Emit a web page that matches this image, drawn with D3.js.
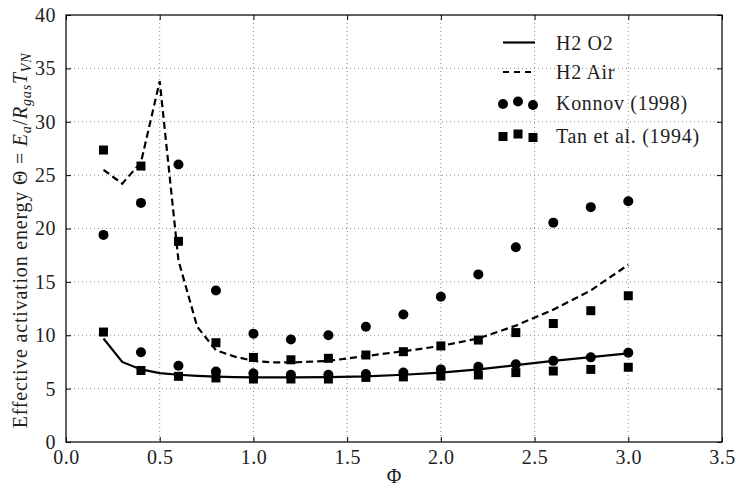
<!DOCTYPE html>
<html><head><meta charset="utf-8">
<script src="https://cdn.jsdelivr.net/npm/d3@7"></script>
<style>body{margin:0;background:#fff}</style>
</head><body>
<svg id="chart" width="736" height="490"></svg>
<script>
// ---- data ----
const xTicks = [0.0, 0.5, 1.0, 1.5, 2.0, 2.5, 3.0, 3.5];
const yTicks = [0, 5, 10, 15, 20, 25, 30, 35, 40];

const o2Phi = [0.2, 0.3, 0.4, 0.5, 0.6, 0.7, 0.8, 0.9, 1.0, 1.2, 1.4, 1.6, 1.8, 2.0, 2.2, 2.4, 2.6, 2.8, 3.0];
const o2Theta = [9.7, 7.5, 6.8, 6.45, 6.3, 6.2, 6.12, 6.07, 6.05, 6.05, 6.08, 6.15, 6.3, 6.5, 6.8, 7.2, 7.6, 7.95, 8.3];

const airPhi = [0.2, 0.3, 0.4, 0.5, 0.6, 0.7, 0.8, 0.9, 1.0, 1.1, 1.2, 1.4, 1.6, 1.8, 2.0, 2.2, 2.4, 2.6, 2.8, 3.0];
const airTheta = [25.5, 24.2, 26.2, 33.8, 17.0, 10.8, 8.6, 8.0, 7.6, 7.45, 7.45, 7.6, 8.05, 8.5, 9.0, 9.7, 10.9, 12.4, 14.2, 16.6];

const expPhi = [0.2, 0.4, 0.6, 0.8, 1.0, 1.2, 1.4, 1.6, 1.8, 2.0, 2.2, 2.4, 2.6, 2.8, 3.0];
const konnovAir = [19.4, 22.4, 26.0, 14.2, 10.15, 9.6, 10.0, 10.8, 11.95, 13.6, 15.7, 18.25, 20.55, 22.0, 22.55];
const konnovO2 = [null, 8.4, 7.15, 6.6, 6.43, 6.3, 6.3, 6.37, 6.5, 6.8, 7.05, 7.28, 7.6, 7.93, 8.37];
const tanAir = [27.35, 25.85, 18.8, 9.3, 7.92, 7.7, 7.84, 8.15, 8.46, 9.0, 9.55, 10.25, 11.1, 12.3, 13.7];
const tanO2 = [10.3, 6.7, 6.15, 6.0, 5.9, 5.9, 5.9, 6.05, 6.1, 6.18, 6.28, 6.5, 6.65, 6.8, 7.0];

const legendLabels = ["H2 O2", "H2 Air", "Konnov (1998)", "Tan et al. (1994)"];

// ---- chart ----
const svg = d3.select("#chart");
const L = 66, R = 722, T = 15, B = 442;
const x = d3.scaleLinear().domain([0, 3.5]).range([L, R]);
const y = d3.scaleLinear().domain([0, 40]).range([B, T]);
const FONT = "'Liberation Serif', 'Times New Roman', serif";
const TXT = "#1e1e1e";

// grid
const grid = svg.append("g").attr("stroke", "#8a8a8a").attr("stroke-width", 1).attr("stroke-dasharray", "1,3");
xTicks.slice(1, -1).forEach(v => grid.append("line").attr("x1", x(v)).attr("x2", x(v)).attr("y1", T).attr("y2", B));
yTicks.slice(1, -1).forEach(v => grid.append("line").attr("x1", L).attr("x2", R).attr("y1", y(v)).attr("y2", y(v)));

// axes (ticks inward)
const axB = d3.axisBottom(x).tickValues(xTicks).tickFormat(d3.format(".1f")).tickSizeInner(-5).tickSizeOuter(0).tickPadding(8);
const axL = d3.axisLeft(y).tickValues(yTicks).tickFormat(d3.format("d")).tickSizeInner(-5).tickSizeOuter(0).tickPadding(10);
const axT = d3.axisTop(x).tickValues(xTicks).tickFormat("").tickSizeInner(-5).tickSizeOuter(0);
const axR = d3.axisRight(y).tickValues(yTicks).tickFormat("").tickSizeInner(-5).tickSizeOuter(0);

function styleAxis(g) {
  g.select(".domain").remove();
  g.selectAll("line").attr("stroke", "#000").attr("stroke-width", 1);
  g.selectAll("text").attr("font-family", FONT).attr("font-size", 20).attr("fill", TXT).attr("letter-spacing", 0.5);
}
svg.append("g").attr("transform", `translate(0,${B})`).call(axB).call(styleAxis);
svg.append("g").attr("transform", `translate(${L},0)`).call(axL).call(styleAxis);
svg.append("g").attr("transform", `translate(0,${T})`).call(axT).call(styleAxis);
svg.append("g").attr("transform", `translate(${R},0)`).call(axR).call(styleAxis);

svg.append("rect").attr("x", L).attr("y", T).attr("width", R - L).attr("height", B - T)
  .attr("fill", "none").attr("stroke", "#111").attr("stroke-width", 1.3);

// lines
const line = d3.line().x(d => x(d[0])).y(d => y(d[1]));
svg.append("path").datum(o2Phi.map((p, i) => [p, o2Theta[i]])).attr("d", line)
  .attr("fill", "none").attr("stroke", "#000").attr("stroke-width", 2.2);
svg.append("path").datum(airPhi.map((p, i) => [p, airTheta[i]])).attr("d", line)
  .attr("fill", "none").attr("stroke", "#000").attr("stroke-width", 2.2).attr("stroke-dasharray", "7,4");

// markers
const SQ = 9, CR = 5;
function circles(vals) {
  svg.append("g").selectAll("circle").data(expPhi.map((p, i) => [p, vals[i]]).filter(d => d[1] != null))
    .join("circle").attr("cx", d => x(d[0])).attr("cy", d => y(d[1])).attr("r", CR).attr("fill", "#000");
}
function squares(vals) {
  svg.append("g").selectAll("rect").data(expPhi.map((p, i) => [p, vals[i]]).filter(d => d[1] != null))
    .join("rect").attr("x", d => x(d[0]) - SQ / 2).attr("y", d => y(d[1]) - SQ / 2)
    .attr("width", SQ).attr("height", SQ).attr("fill", "#000");
}
circles(konnovAir); circles(konnovO2);
squares(tanAir); squares(tanO2);

// legend
const lg = svg.append("g");
const lx0 = 503, lx1 = 535, tx = 556, rowY = [42.5, 72, 103, 135.5];
const yOff = [1, -1.5, 2];
const mX = [503, 518, 533];
lg.append("line").attr("x1", lx0).attr("x2", lx1).attr("y1", rowY[0]).attr("y2", rowY[0]).attr("stroke", "#000").attr("stroke-width", 2.2);
lg.append("line").attr("x1", lx0).attr("x2", lx1).attr("y1", rowY[1]).attr("y2", rowY[1]).attr("stroke", "#000").attr("stroke-width", 2.2).attr("stroke-dasharray", "6,5");
mX.forEach((mx, i) => {
  lg.append("circle").attr("cx", mx).attr("cy", rowY[2] + yOff[i]).attr("r", CR).attr("fill", "#000");
  lg.append("rect").attr("x", mx - SQ / 2).attr("y", rowY[3] + yOff[i] - SQ / 2).attr("width", SQ).attr("height", SQ).attr("fill", "#000");
});
legendLabels.forEach((t, i) => {
  lg.append("text").attr("x", tx).attr("y", rowY[i]).attr("dy", "0.35em").text(t)
    .attr("font-family", FONT).attr("font-size", 20).attr("fill", TXT).attr("letter-spacing", 0.7);
});

// axis labels
svg.append("text").attr("x", (L + R) / 2).attr("y", 483).attr("text-anchor", "middle")
  .attr("font-family", FONT).attr("font-size", 20).attr("fill", TXT).text("Φ");

const yl = svg.append("text").attr("transform", `translate(27,${(T + B) / 2 + 12}) rotate(-90)`)
  .attr("text-anchor", "middle").attr("font-family", FONT).attr("font-size", 20).attr("fill", TXT)
  .attr("letter-spacing", 0.8);
yl.append("tspan").text("Effective activation energy Θ = ");
yl.append("tspan").attr("font-style", "italic").text("E");
yl.append("tspan").attr("font-style", "italic").attr("font-size", 14).attr("dy", 4).text("a");
yl.append("tspan").attr("dy", -4).text("/");
yl.append("tspan").attr("font-style", "italic").text("R");
yl.append("tspan").attr("font-style", "italic").attr("font-size", 14).attr("dy", 4).text("gas");
yl.append("tspan").attr("font-style", "italic").attr("dy", -4).text("T");
yl.append("tspan").attr("font-style", "italic").attr("font-size", 14).attr("dy", 4).text("VN");
</script>
</body></html>
